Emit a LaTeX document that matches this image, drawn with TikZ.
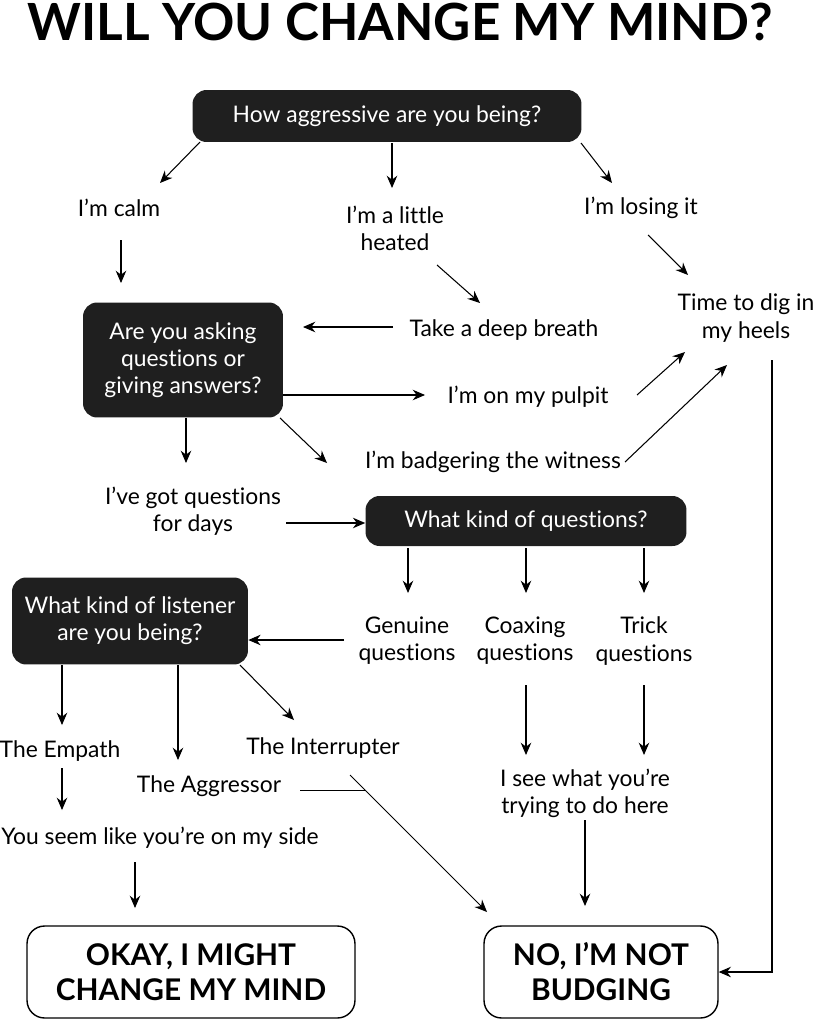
\documentclass[tikz,border=0pt]{standalone}
\usepackage{fontspec}
\setmainfont{Lato}[Ligatures=NoCommon]
\usetikzlibrary{arrows.meta}
\begin{document}
\begin{tikzpicture}[x=0.02cm,y=-0.02cm,font=\fontsize{13}{15.5}\selectfont,
    ask/.style={fill=black!88,text=white,rounded corners=8pt,align=center},
    answer/.style={draw,thick,rounded corners=10pt,align=center,font=\fontsize{17}{20}\selectfont\bfseries},
    txt/.style={align=center},
    arr/.style={-{Stealth[length=7pt,width=6pt]},semithick}]
    \useasboundingbox (0,0) rectangle (815,1024);

    % Title
    \node (title) at (400,22) {\resizebox{14.9cm}{!}{\bfseries WILL YOU CHANGE MY MIND?}};

    % Questions
    \node[ask,minimum width=7.78cm,minimum height=1.04cm] (q1) at (387,116) {How aggressive are you being?};
    \node[ask,minimum width=4cm,minimum height=2.3cm] (q2) at (183,360) {Are you asking\\questions or\\giving answers?};
    \node[ask,minimum width=6.42cm,minimum height=1cm] (q3) at (526,521) {What kind of questions?};
    \node[ask,minimum width=4.72cm,minimum height=1.74cm] (q4) at (130,621) {What kind of listener\\are you being?};

    % Answers
    \node[txt] (calm) at (119,208) {I'm calm};
    \node[txt] (heated) at (395,228) {I'm a little\\heated};
    \node[txt] (losing) at (641,208) {I'm losing it};
    \node[txt] (heels) at (746,318) {Time to dig in\\my heels};
    \node[txt] (breath) at (504,330) {Take a deep breath};
    \node[txt] (pulpit) at (528,397) {I'm on my pulpit};
    \node[txt] (badger) at (493,462) {I'm badgering the witness};
    \node[txt] (days) at (193,511) {I've got questions\\for days};
    \node[txt] (genuine) at (407,641) {Genuine\\questions};
    \node[txt] (coax) at (525,641) {Coaxing\\questions};
    \node[txt] (trick) at (644,641) {Trick\\questions};
    \node[txt] (empath) at (60,751) {The Empath};
    \node[txt] (aggr) at (209,786) {The Aggressor};
    \node[txt] (inter) at (323,748) {The Interrupter};
    \node[txt] (side) at (160,838) {You seem like you're on my side};
    \node[txt] (see) at (585,793) {I see what you're\\trying to do here};

    % Outcomes
    \node[answer,minimum width=6.56cm,minimum height=1.84cm] (okay) at (191,972) {OKAY, I MIGHT\\CHANGE MY MIND};
    \node[answer,minimum width=4.68cm,minimum height=1.84cm] (no) at (601,972) {NO, I'M NOT\\BUDGING};

    % Connectors
    \draw[arr] (200,142) -- (160,183);
    \draw[arr] (392,143) -- (392,188);
    \draw[arr] (581,143) -- (612,183);
    \draw[arr] (121,240) -- (121,283);
    \draw[arr] (437,265) -- (480,303);
    \draw[arr] (648,235) -- (688,275);
    \draw[arr] (393,327) -- (303,327);
    \draw[arr] (q2.east |- 0,395) -- (425,395);
    \draw[arr] (637,395) -- (685,352);
    \draw[arr] (625,462) -- (727,365);
    \draw[arr] (186,418) -- (186,463);
    \draw[arr] (280,418) -- (327,463);
    \draw[arr] (286,523) -- (q3.west |- 0,523);
    \foreach \x in {408,526,644}
        \draw[arr] (\x,548) -- (\x,593);
    \draw[arr] (344,640) -- (q4.east |- 0,640);
    \draw[arr] (62,665) -- (62,725);
    \draw[arr] (178,665) -- (178,760);
    \draw[arr] (240,665) -- (294,720);
    \draw[arr] (62,768) -- (62,810);
    \draw[arr] (135,862) -- (135,908);
    \draw (300,790) -- (365,790);
    \draw[arr] (350,775) -- (487,912);
    \draw[arr] (526,685) -- (526,755);
    \draw[arr] (644,685) -- (644,755);
    \draw[arr] (585,820) -- (585,906);
    \draw[arr] (772,360) |- (no.east);
\end{tikzpicture}
\end{document}
